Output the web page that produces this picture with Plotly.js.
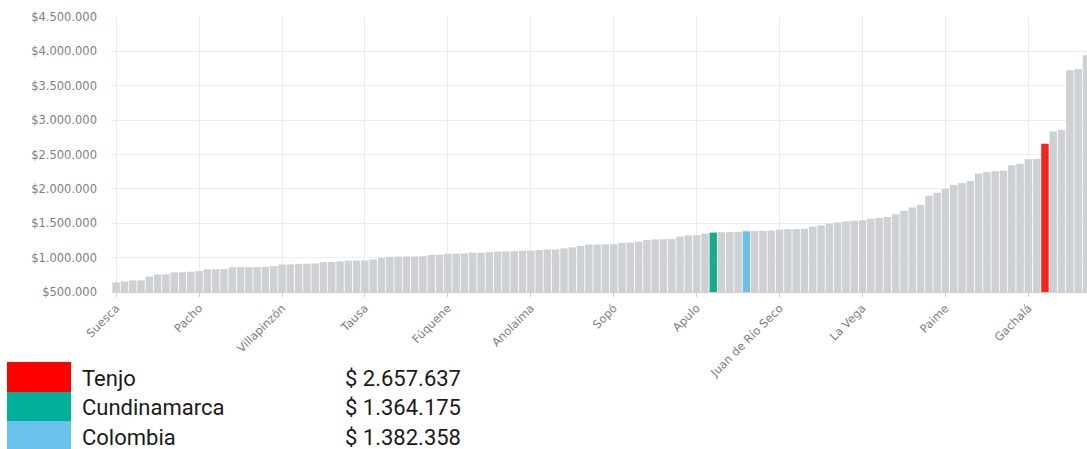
<!DOCTYPE html>
<html>
<head>
<meta charset="utf-8">
<script src="https://cdn.plot.ly/plotly-3.0.1.min.js"></script>
<style>html,body{margin:0;padding:0;background:#fff;}#chart{width:1087px;height:449px;}</style>
</head>
<body>
<div id="chart"></div>
<script>
// Categories (sorted ascending by value)
const municipios = [
"Suesca","Yacopí","Topaipí","Caparrapí","La Palma","Medina","Paratebueno","El Peñón","Pulí","Vergara",
"Pacho","Ubalá","Guayabetal","Quipile","Chaguaní","Bituima","Vianí","Villagómez","Jerusalén","Guataquí",
"Villapinzón","Nimaima","Útica","Quebradanegra","Nocaima","San Cayetano","Carmen de Carupa","Cucunubá","Lenguazaque","Guachetá",
"Tausa","Sutatausa","Susa","Simijaca","Machetá","Tibirita","Manta","Gachetá","Junín","Gama",
"Fúquene","Guayabal de Síquima","Albán","Supatá","La Peña","Venecia","Cabrera","Pandi","Tibacuy","San Bernardo",
"Anolaima","Cachipay","Sasaima","Viotá","Quetame","Fosca","Une","Gutiérrez","Fómeque","Chipaque",
"Sopó","Ubaque","Choachí","Cáqueza","Pasca","Arbeláez","Granada","Silvania","Beltrán","San Francisco",
"Apulo","Puerto Salgar","Cundinamarca","Nariño","Nilo","Tocaima","Colombia","Agua de Dios","Ricaurte","Anapoima",
"Juan de Río Seco","El Colegio","San Antonio del Tequendama","Tena","La Mesa","Villeta","Guaduas","Girardot","Fusagasugá","Soacha",
"La Vega","Sibaté","Ubaté","Chocontá","Sesquilé","Guatavita","Guasca","Nemocón","Cogua","Gachancipá",
"Paime","Zipacón","Bojacá","El Rosal","Subachoque","Tabio","La Calera","Zipaquirá","Facatativá","Madrid",
"Gachalá","Funza","Tenjo","Mosquera","Chía","Cajicá","Cota","Tocancipá"
];

// Values (pesos)
const ingresos = [
640000,655000,668000,670000,725000,755000,757000,785000,787000,795000,
805000,830000,831000,833000,860000,861000,862000,863000,866000,876000,
900000,902000,910000,912000,916000,935000,937000,946000,955000,957000,
960000,972000,995000,1010000,1015000,1016000,1017000,1020000,1040000,1042000,
1055000,1058000,1062000,1070000,1072000,1082000,1088000,1090000,1095000,1098000,
1100000,1110000,1118000,1120000,1135000,1150000,1170000,1190000,1191000,1193000,
1196000,1215000,1218000,1232000,1255000,1265000,1268000,1270000,1305000,1322000,
1326000,1350000,1364175,1368000,1371000,1375000,1382358,1386000,1390000,1393000,
1410000,1414000,1416000,1419000,1450000,1470000,1495000,1510000,1525000,1535000,
1542000,1565000,1578000,1590000,1632000,1680000,1730000,1765000,1900000,1945000,
2000000,2055000,2085000,2115000,2225000,2245000,2255000,2262000,2345000,2365000,
2430000,2434000,2657637,2835000,2858000,3725000,3745000,3945000
];

// Tick labels shown on the x axis
const etiquetas = ["Suesca","Pacho","Villapinzón","Tausa","Fúquene","Anolaima","Sopó","Apulo","Juan de Río Seco","La Vega","Paime","Gachalá"];

// Highlighted entries (legend)
const destacados = ["Tenjo","Cundinamarca","Colombia"];
const destacadosTexto = ["$ 2.657.637","$ 1.364.175","$ 1.382.358"];

const grisBarra = "rgb(205,209,212)";
const coloresBarra = {"Tenjo":"rgb(242,38,26)","Cundinamarca":"rgb(30,170,140)","Colombia":"rgb(108,190,235)"};
const coloresLeyenda = ["#ff0000","#00b09a","#69c1ec"];

const colors = municipios.map(m => coloresBarra[m] || grisBarra);

const trace = {
  type: "bar",
  x: municipios,
  y: ingresos,
  marker: {color: colors, line: {width: 0}},
  hoverinfo: "x+y"
};

// pixel -> paper helpers (plot area: x 112..1087, y 17..292)
const L = 112, R = 1087, T = 17, B = 292;
const px = v => (v - L) / (R - L);
const py = v => (B - v) / (B - T);

const shapes = [];
const annotations = [];
const boxTops = [362, 392, 421];
const boxBottoms = [392, 421, 451];
destacados.forEach((d, i) => {
  shapes.push({type: "rect", xref: "paper", yref: "paper",
    x0: px(7), x1: px(71), y0: py(boxBottoms[i]), y1: py(boxTops[i]),
    fillcolor: coloresLeyenda[i], line: {width: 0}, layer: "above"});
  const yc = [378, 407, 437][i];
  annotations.push({xref: "paper", yref: "paper", x: px(80), y: py(yc),
    xanchor: "left", yanchor: "middle", showarrow: false, text: d,
    font: {family: "Roboto", size: 22, color: "#1a1a1a"}});
  annotations.push({xref: "paper", yref: "paper", x: px(343), y: py(yc),
    xanchor: "left", yanchor: "middle", showarrow: false, text: destacadosTexto[i],
    font: {family: "Roboto", size: 22, color: "#1a1a1a"}});
});

const layout = {
  width: 1087, height: 449,
  margin: {l: L, r: 1087 - R, t: T, b: 449 - B, pad: 0},
  paper_bgcolor: "#fff", plot_bgcolor: "#fff",
  separators: ",.",
  bargap: 0.1,
  showlegend: false,
  xaxis: {
    type: "category",
    range: [-0.5, 117.07],
    tickmode: "array",
    tickvals: etiquetas,
    ticktext: etiquetas,
    tickangle: -45,
    tickfont: {family: "DejaVu Sans", size: 11.5, color: "#808080"},
    showgrid: true, gridcolor: "#ececec", gridwidth: 1,
    showline: true, linecolor: "#cfcfcf", linewidth: 1,
    ticks: "outside", ticklen: 4, tickcolor: "#cfcfcf",
    automargin: false
  },
  yaxis: {
    range: [500000, 4500000],
    dtick: 500000,
    tick0: 500000,
    tickprefix: "$",
    tickformat: ",d",
    tickfont: {family: "DejaVu Sans", size: 11.5, color: "#808080"},
    showgrid: true, gridcolor: "#ececec", gridwidth: 1,
    zeroline: false, showline: false,
    ticks: "", ticklabelstandoff: 14,
    automargin: false
  },
  shapes: shapes,
  annotations: annotations
};

Plotly.newPlot("chart", [trace], layout, {displayModeBar: false, staticPlot: true});
</script>
</body>
</html>
